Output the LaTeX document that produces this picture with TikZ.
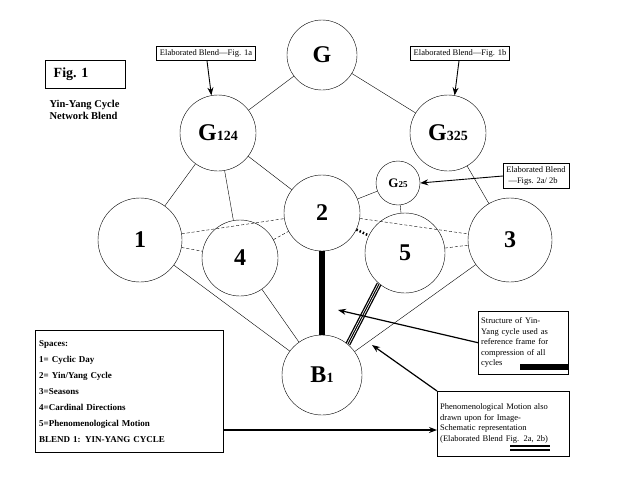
\documentclass[tikz,border=0pt]{standalone}
\usepackage{fontspec}
\setmainfont{Liberation Serif}
\usetikzlibrary{positioning,arrows.meta}
\begin{document}
\begin{tikzpicture}[x=1pt,y=-1pt,
		space/.style={circle,draw,inner sep=0pt,font=\bfseries\fontsize{24}{24}\selectfont},
		note/.style={rectangle,draw,align=left,font=\fontsize{8.5}{10.5}\selectfont},
		dashlink/.style={dash pattern=on 3pt off 2pt},
		ptr/.style={-{Stealth[length=8pt,width=6pt]},line width=1.2pt},
		triple/.style={double=white,line width=1.3pt,double distance=2.6pt},
		every node/.style={text=black}]
		\useasboundingbox (0,0) rectangle (638,493);
		% spaces
		\node[space,minimum size=70pt] (G) at (322,55) {G};
		\node[space,minimum size=76pt] (G124) at (218,133) {G\fontsize{14}{14}\selectfont 124};
		\node[space,minimum size=76pt] (G325) at (448,133) {G\fontsize{14}{14}\selectfont 325};
		\node[space,minimum size=44pt,font=\bfseries\fontsize{13}{13}\selectfont] (G25) at (398,183) {G\fontsize{9}{9}\selectfont 25};
		\node[space,minimum size=76pt] (S2) at (322,213) {2};
		\node[space,minimum size=84pt] (S1) at (140,240) {1};
		\node[space,minimum size=76pt] (S4) at (240,258) {4};
		\node[space,minimum size=80pt] (S5) at (405,253) {5};
		\node[space,minimum size=84pt] (S3) at (510,240) {3};
		\node[space,minimum size=80pt] (B1) at (322,375) {B\fontsize{14}{14}\selectfont 1};
		% links
		\draw (G) -- (G124);
		\draw (G) -- (G325);
		\draw (G124) -- (S1);
		\draw (G124) -- (S4);
		\draw (G124) -- (S2);
		\draw (G325) -- (S3);
		\draw (G25) -- (S2);
		\draw (G25) -- (S5);
		\draw (S1) -- (B1);
		\draw (S4) -- (B1);
		\draw (S3) -- (B1);
		\draw[dashlink] (S1) -- (S2);
		\draw[dashlink] (S1) -- (S4);
		\draw[dashlink] (S4) -- (S2);
		\draw[dashlink] (S2) -- (S3);
		\draw[dashlink] (S5) -- (S3);
		\draw[line width=2.5pt,dash pattern=on 1.5pt off 2pt] (S2) -- (S5);
		\draw[triple] (S2.south) -- (B1.north);
		\draw[line width=1.3pt] (S2.south) -- (B1.north);
		\draw[triple] (S5.-130) -- (B1.50);
		\draw[line width=1pt] (S5.-130) -- (B1.50);
		% notes
		\node[note] (fig1a) at (206,53) {Elaborated Blend---Fig. 1a};
		\node[note] (fig1b) at (460,53) {Elaborated Blend---Fig. 1b};
		\node[note] (fig2) at (536,176) {Elaborated Blend\\\ ---Figs. 2a/ 2b};
		\draw[ptr,line width=0.9pt] (fig1a) -- (G124.100);
		\draw[ptr,line width=0.9pt] (fig1b) -- (G325.80);
		\draw[ptr,line width=0.9pt] (fig2.west) -- (G25.east);
		\node[draw,font=\bfseries\fontsize{14}{14}\selectfont,minimum width=80pt,minimum height=28pt,align=left] (fig) at (85,74) {Fig. 1\hspace{28pt}};
		\node[font=\bfseries\fontsize{10.5}{12}\selectfont,align=left,anchor=north west] (title) at (46,97) {Yin-Yang Cycle\\Network Blend};
		\node[note,font=\bfseries\fontsize{9}{16}\selectfont,anchor=north west,minimum width=188pt,minimum height=122pt,text width=180pt,inner sep=4pt] (spaces) at (35,330) {Spaces:\\1= Cyclic Day\\2= Yin/Yang Cycle\\3=Seasons\\4=Cardinal Directions\\5=Phenomenological Motion\\BLEND 1: YIN-YANG CYCLE};
		\node[note,anchor=north west,text width=84pt,minimum height=63pt,inner sep=3pt] (struct) at (478,311) {Structure of Yin-\\Yang cycle used as\\reference frame for\\compression of all\\cycles};
		\node[note,anchor=north west,text width=126pt,minimum height=65pt,inner sep=3pt] (phen) at (437,391) {Phenomenological Motion also\\drawn upon for Image-\\Schematic representation\\(Elaborated Blend Fig. 2a, 2b)};
		\draw[triple] (520,367) -- (568,367);
		\draw[line width=1.3pt] (520,367) -- (568,367);
		\draw[triple] (510,448) -- (550,448);
		\coordinate (hitA) at (338,310);
		\coordinate (hitB) at (372,345);
		\draw[ptr] (struct.west) -- (hitA);
		\draw[ptr] (phen.north west) -- (hitB);
		\draw[ptr] (spaces.east |- 0,430) -- (phen.west |- 0,430);
	\end{tikzpicture}
\end{document}
